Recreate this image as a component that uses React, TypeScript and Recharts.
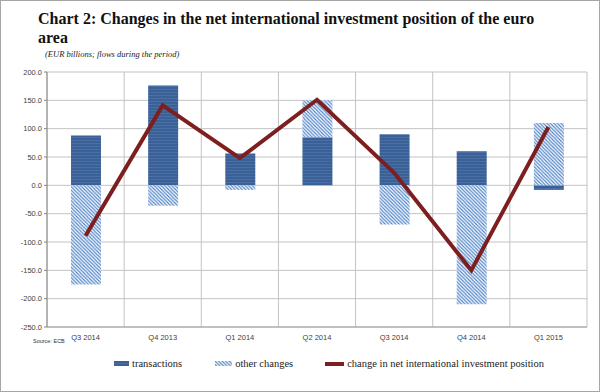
import React from "react";
import { ComposedChart, Bar, Line, XAxis, YAxis, CartesianGrid } from "recharts";

const quarters = ["Q3 2014", "Q4 2013", "Q1 2014", "Q2 2014", "Q3 2014", "Q4 2014", "Q1 2015"];
const transactions = [88, 176, 56, 85, 90, 60, -8];
const otherChanges = [-175, -36, -8, 65, -69, -210, 110];
const netChange = [-89, 141, 48, 151, 22, -150, 103];
const yTicks = [-250, -200, -150, -100, -50, 0, 50, 100, 150, 200];

const data = quarters.map((q, i) => ({
  idx: i,
  transactions: transactions[i],
  other: otherChanges[i],
  net: netChange[i],
}));

const DARK = "#3A6096";
const HATCH = "#4F84C8";
const RED = "#7E1F1F";

function Patterns({ prefix }: { prefix: string }) {
  return (
    <defs>
      <pattern id={`${prefix}-tx`} width="4" height="3" patternUnits="userSpaceOnUse">
        <rect width="4" height="3" fill={DARK} />
        <rect y="2" width="4" height="1" fill="#4870A6" />
      </pattern>
      <pattern id={`${prefix}-hatch`} width="3.5" height="3.5" patternUnits="userSpaceOnUse">
        <rect width="3.5" height="3.5" fill="#ffffff" />
        <path d="M-1,-1 L4.5,4.5 M-1,2.5 L1,4.5 M2.5,-1 L4.5,1" stroke={HATCH} strokeWidth="1.2" />
      </pattern>
    </defs>
  );
}

function LegendRow() {
  const txt: React.CSSProperties = {
    fontFamily: "'Liberation Serif', serif",
    fontSize: 10.5,
    color: "#222",
    marginLeft: 3,
  };
  return (
    <div style={{ position: "absolute", left: 113, top: 357, display: "flex", alignItems: "center" }}>
      <svg width={15} height={5}>
        <Patterns prefix="lg" />
        <rect width={15} height={5} fill="url(#lg-tx)" />
      </svg>
      <span style={{ ...txt, marginRight: 33 }}>transactions</span>
      <svg width={17} height={5}>
        <rect width={17} height={5} fill="url(#lg-hatch)" />
      </svg>
      <span style={{ ...txt, marginRight: 32 }}>other changes</span>
      <svg width={19} height={4}>
        <rect width={19} height={4} fill={RED} />
      </svg>
      <span style={txt}>change in net international investment position</span>
    </div>
  );
}

export default function App() {
  return (
    <div
      style={{
        position: "absolute",
        left: 0,
        top: 0,
        width: 598,
        height: 390,
        background: "#fff",
        border: "1px solid #A6A6A6",
        overflow: "hidden",
      }}
    >
      <div
        style={{
          position: "absolute",
          left: 37,
          top: 8,
          width: 520,
          fontFamily: "'Liberation Serif', serif",
          fontWeight: "bold",
          fontSize: 16,
          lineHeight: "19px",
          color: "#111",
        }}
      >
        Chart 2: Changes in the net international investment position of the euro area
      </div>
      <div
        style={{
          position: "absolute",
          left: 44,
          top: 48,
          fontFamily: "'Liberation Serif', serif",
          fontStyle: "italic",
          fontSize: 8.5,
          color: "#222",
        }}
      >
        (EUR billions; flows during the period)
      </div>
      <div style={{ position: "absolute", left: -1, top: -1 }}>
        <ComposedChart
          width={600}
          height={392}
          data={data}
          stackOffset="sign"
          margin={{ top: 72, right: 13, left: 7, bottom: 45 }}
        >
          <Patterns prefix="ch" />
          <CartesianGrid
            stroke="#C3C3C3"
            verticalCoordinatesGenerator={({ offset }: any) =>
              Array.from({ length: quarters.length + 1 }, (_, i) => offset.left + (i * offset.width) / quarters.length)
            }
          />
          <XAxis
            dataKey="idx"
            type="category"
            height={20}
            tickFormatter={(i) => quarters[i]}
            tick={{ fontSize: 7.5, fill: "#404040", fontFamily: "'Liberation Sans', sans-serif" }}
            tickLine={false}
            axisLine={{ stroke: "#A0A0A0" }}
            interval={0}
          />
          <YAxis
            width={40}
            domain={[-250, 200]}
            ticks={yTicks}
            tickFormatter={(v) => Number(v).toFixed(1)}
            tick={{ fontSize: 7.5, fill: "#404040", fontFamily: "'Liberation Sans', sans-serif" }}
            tickLine={{ stroke: "#868686" }}
            tickSize={3}
            axisLine={{ stroke: "#868686" }}
          />
          <Bar dataKey="transactions" stackId="a" fill="url(#ch-tx)" barSize={30} isAnimationActive={false} />
          <Bar dataKey="other" stackId="a" fill="url(#ch-hatch)" barSize={30} isAnimationActive={false} />
          <Line
            dataKey="net"
            type="linear"
            stroke={RED}
            strokeWidth={4}
            dot={false}
            activeDot={false}
            isAnimationActive={false}
          />
        </ComposedChart>
      </div>
      <div
        style={{
          position: "absolute",
          left: 32,
          top: 337,
          fontFamily: "'Liberation Sans', sans-serif",
          fontSize: 5.5,
          color: "#333",
        }}
      >
        Source: ECB
      </div>
      <LegendRow />
    </div>
  );
}
